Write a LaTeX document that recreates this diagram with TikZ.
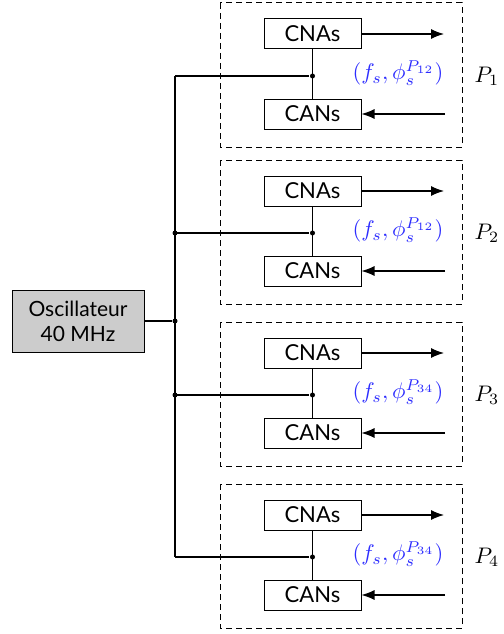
\documentclass[tikz,border=0pt]{standalone}
\usepackage{fontspec}
\setsansfont{Lato}
\usetikzlibrary{arrows.meta}
\definecolor{lblue}{RGB}{45,45,255}
\begin{document}
\begin{tikzpicture}[x=1pt,y=-1pt,
  line width=1.1pt,
  blk/.style={draw,line width=1pt,minimum width=97pt,minimum height=30pt,inner sep=0pt,font=\sffamily\fontsize{22}{24}\selectfont},
  frame/.style={draw,line width=1pt,dash pattern=on 6pt off 4pt},
  dot/.style={circle,fill,inner sep=0pt,minimum size=5pt},
  arr/.style={-{Latex[length=13pt,width=10pt]}},
  lab/.style={inner sep=0pt}]
\useasboundingbox (0,0) rectangle (503,634);
\node[blk,fill=black!20,minimum width=132pt,minimum height=62pt,align=center,font=\sffamily\fontsize{21}{25}\selectfont] (osc) at (78,321) {Oscillateur\\40 MHz};
\node[dot] (bd) at (175,321) {};
\draw (osc.east) -- (bd);
\foreach \i/\o/\p/\n in {1/0/12/1,2/157/12/2,3/319/34/3,4/481/34/4}{
  \draw[frame] (220,3+\o) rectangle (462,147+\o);
  \node[blk] (cna\i) at (312.5,34+\o) {CNAs};
  \node[blk] (can\i) at (312.5,114+\o) {CANs};
  \node[dot] (j\i) at (312.5,76+\o) {};
  \coordinate (b\i) at (175,76+\o);
  \coordinate (oa\i) at (444,34+\o);
  \coordinate (ia\i) at (445,114+\o);
  \draw (cna\i) -- (can\i);
  \draw (b\i) -- (j\i);
  \draw[arr] (cna\i.east) -- (oa\i);
  \draw[arr] (ia\i) -- (can\i.east);
  \node[lab,text=lblue] (l\i) at (398,73+\o) {\scalebox{2.25}{$(f_s,\phi_s^{P_{\p}})$}};
  \node[lab,anchor=west] (p\i) at (474,76+\o) {\scalebox{2.25}{$P_{\n}$}};
}
\node[dot] at (b2) {};
\node[dot] at (b3) {};
\draw (b1) -- (b4);
\end{tikzpicture}
\end{document}
